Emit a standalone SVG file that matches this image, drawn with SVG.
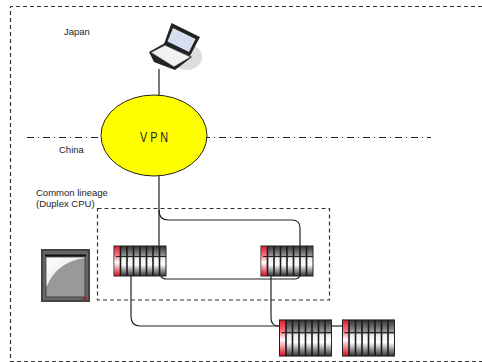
<svg xmlns="http://www.w3.org/2000/svg" width="482" height="362" viewBox="0 0 482 362">
<style>
text{font-family:"Liberation Sans",Arial,sans-serif;font-size:9.500px;fill:#222}
.conn{fill:none;stroke:#222;stroke-width:1.2}
.dash{fill:none;stroke:#333;stroke-width:1.2;stroke-dasharray:4 3}
.bar{fill:none;stroke:#1a1a1a;stroke-width:1.6}
</style>
<defs>
<linearGradient id="g" x1="0" y1="0" x2="0" y2="1"><stop offset="0" stop-color="#333"/><stop offset=".33" stop-color="#999"/><stop offset=".42" stop-color="#eee"/><stop offset=".62" stop-color="#fff"/><stop offset="1" stop-color="#333"/></linearGradient>
<linearGradient id="r" x1="0" y1="0" x2="0" y2="1"><stop offset="0" stop-color="#e02030"/><stop offset=".3" stop-color="#ff7080"/><stop offset=".55" stop-color="#fff"/><stop offset="1" stop-color="#e01020"/></linearGradient>
<linearGradient id="s" x1="0" y1="0" x2="1" y2="1"><stop offset="0" stop-color="#fff"/><stop offset="1" stop-color="#ddd"/></linearGradient>
<g id="rack">
<rect x="0" y="0" width="52" height="30" fill="url(#g)" stroke="#222" stroke-width="1"/>
<rect x="0.500" y="0.500" width="6" height="29" fill="url(#r)"/>
<path class="bar" d="M6.500 0V30M13 0V30M19.500 0V30M26 0V30M32.500 0V30M39 0V30M45.500 0V30"/>
<path d="M2 10.500H52" stroke="#222" stroke-width="1"/>
</g>
</defs>
<g id="boundaries">
<path class="dash" d="M482 6.500H10.500V361.500H482"/>
<rect class="dash" x="97.500" y="208.500" width="232" height="91.500"/>
<path d="M27 137.500H431" fill="none" stroke="#222" stroke-dasharray="7 4 1 4"/>
</g>
<g id="connectors">
<path class="conn" d="M159 69V95M159 176V246"/>
<path class="conn" d="M159 210Q159 220 168 220H292Q300 220 300 228V246"/>
<path class="conn" d="M161 276Q162 279 167 279H295Q298 279 300 276"/>
<path class="conn" d="M131 276V316Q131 326 140 326H279"/>
<path class="conn" d="M271 276V318Q271 326 279 326"/>
<path class="conn" d="M332 326H342"/>
</g>
<g id="laptop">
<ellipse cx="187" cy="57" rx="15" ry="13" fill="#ddd"/>
<path d="M171.500 23 200 37 190 56 164 44Z" fill="#222"/>
<path d="M173 28 195.500 39 189 52 167.500 41.500Z" fill="#d5dff0"/>
<path d="M149 52 165 43 192 57 175 70 154 62Z" fill="#222"/>
<path d="M151.500 52.500 165 45.500 190 57 174 66.500Z" fill="#f2f2f2" stroke="#aaa" stroke-width=".5"/>
</g>
<g id="vpn">
<ellipse cx="154" cy="135.500" rx="53" ry="40.500" fill="#ff0" stroke="#222" stroke-width="1"/>
<text x="140" y="141.500" textLength="28" lengthAdjust="spacingAndGlyphs" style="font-size:14px">V P N</text>
</g>
<g id="labels">
<text x="64" y="35">Japan</text>
<text x="59" y="153">China</text>
<text x="36" y="196">Common lineage</text>
<text x="36" y="207">(Duplex CPU)</text>
</g>
<g id="panel">
<rect x="41" y="249" width="49" height="53" fill="#444"/>
<rect x="43" y="251" width="45" height="49" fill="#666"/>
<rect x="46" y="257" width="39" height="40" fill="#999" stroke="#444"/>
<path d="M46.500 257.500V287Q56 262 85 258V257.500Z" fill="url(#s)"/>
<path d="M45 255.500H86" stroke="#111" stroke-width="2"/>
<rect x="83" y="297" width="4" height="3" fill="#833"/>
</g>
<use id="rack1" href="#rack" x="114" y="246"/>
<use id="rack2" href="#rack" x="261" y="246"/>
<use id="rack3" href="#rack" transform="translate(279.500 320) scale(1 1.2)"/>
<use id="rack4" href="#rack" transform="translate(342.500 320) scale(1 1.2)"/>
</svg>
